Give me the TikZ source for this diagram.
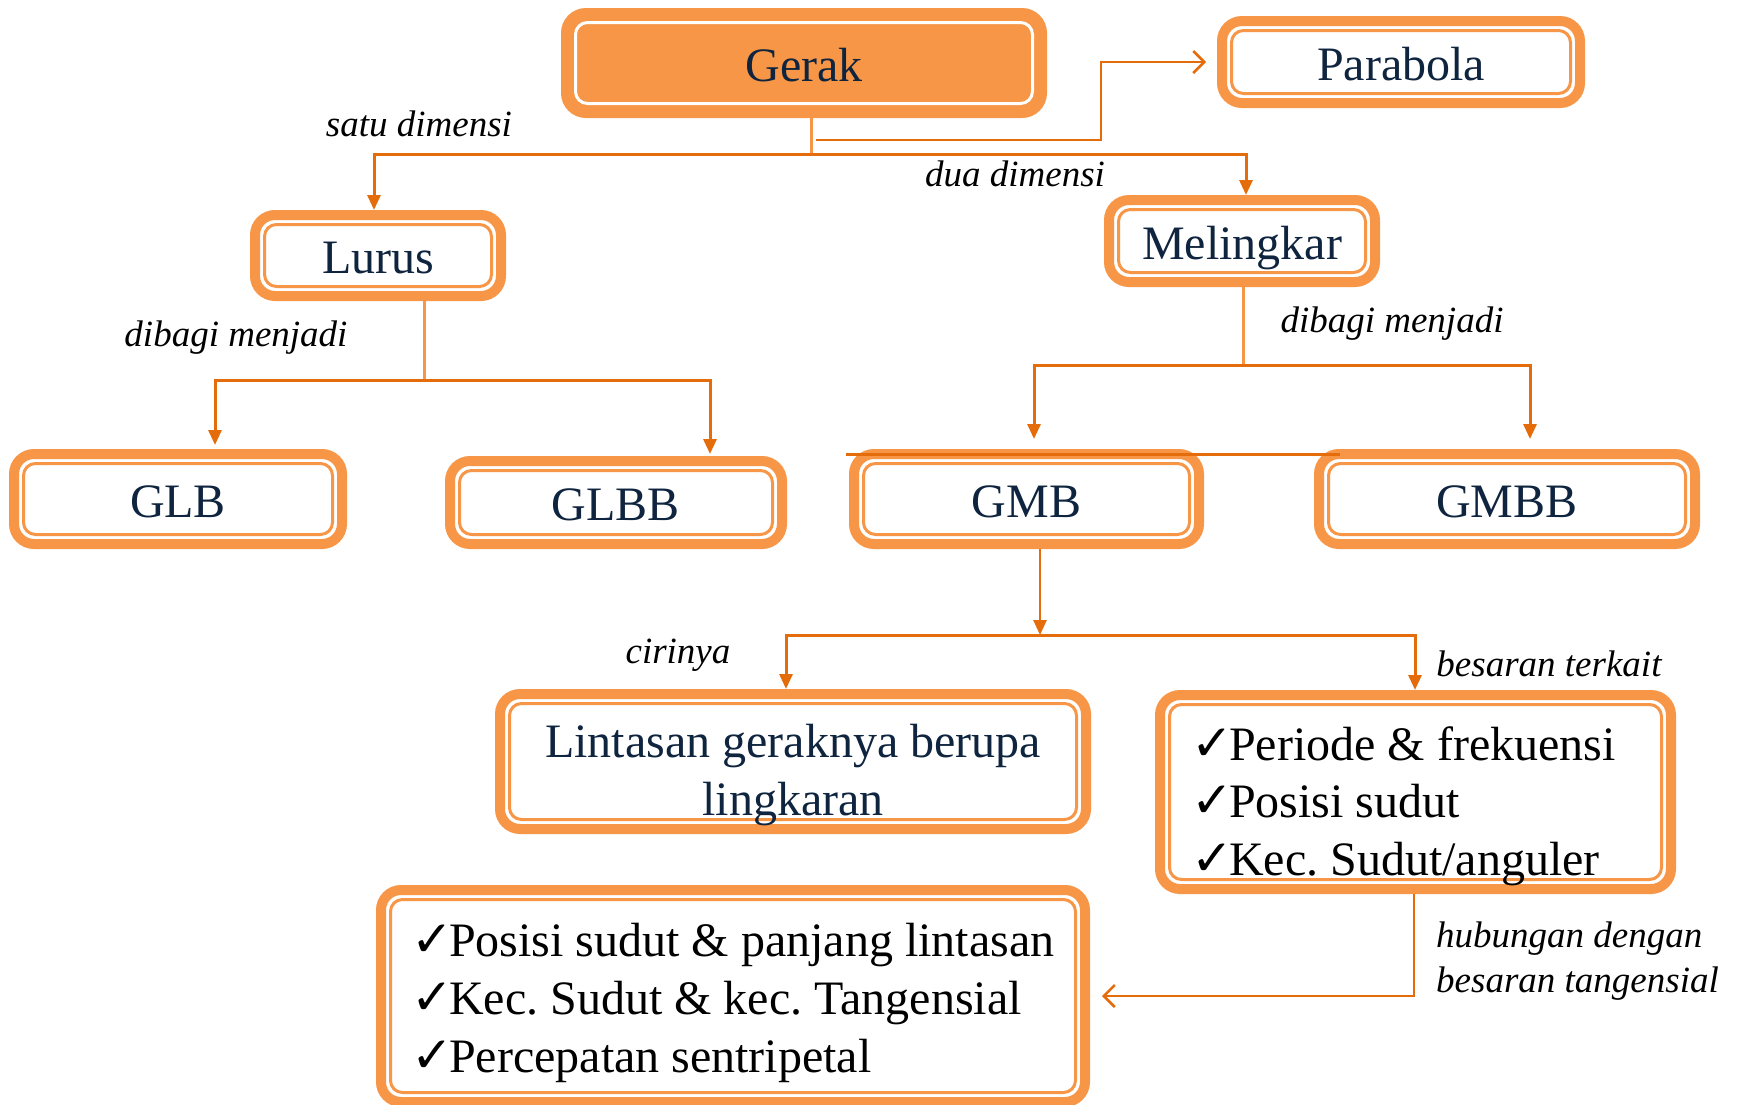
\documentclass[tikz,border=0pt]{standalone}
\usepackage{fontspec}
\setmainfont{Liberation Serif}
\newfontfamily\symfont{DejaVu Sans}
\usetikzlibrary{arrows.meta}
\definecolor{boxor}{HTML}{F79646}
\definecolor{lnor}{HTML}{E46C0A}
\definecolor{navy}{HTML}{0F243E}
\frenchspacing
\newcommand\mychk{{\symfont\fontsize{50}{57.6}\selectfont ✓}\kern-4pt}
\tikzset{
  bx/.style={draw=boxor, line width=10pt, rounded corners=20pt, fill=white, text=navy,
    inner sep=0pt, align=center, font={\fontsize{48}{57.6}\selectfont},
    text height=36pt, text depth=0pt,
    path picture={\draw[draw=boxor, line width=3pt, rounded corners=12pt]
      ([shift={(9.5pt,9.5pt)}]path picture bounding box.south west) rectangle
      ([shift={(-9.5pt,-9.5pt)}]path picture bounding box.north east);}},
  gbx/.style={bx, fill=boxor,
    path picture={\draw[draw=white, line width=3pt, rounded corners=12pt]
      ([shift={(9.5pt,9.5pt)}]path picture bounding box.south west) rectangle
      ([shift={(-9.5pt,-9.5pt)}]path picture bounding box.north east);}},
  txt/.style={inner sep=0pt, font={\fontsize{48}{57.6}\selectfont\frenchspacing}},
  lab/.style={font={\fontsize{37}{45}\selectfont\itshape}, inner sep=0pt, text=black},
  conn/.style={draw=lnor, line width=3pt},
  stem/.style={draw=boxor, line width=3pt},
  tri/.style={-{Triangle[length=15pt,width=13pt]}},
  tri2/.style={{Triangle[length=15pt,width=13pt]}-{Triangle[length=15pt,width=13pt]}},
  barb/.style={-{Straight Barb[length=11pt,width=22pt]}}
}
\begin{document}
\begin{tikzpicture}[x=1pt,y=-1pt]
\useasboundingbox (0,0) rectangle (1740,1104);
% boxes
\node[gbx, minimum width=476pt, minimum height=100pt] (Gerak) at (804,63) {Gerak};
\node[bx, minimum width=358pt, minimum height=82pt] (Parabola) at (1401,62) {Parabola};
\node[bx, minimum width=246pt, minimum height=81pt] (Lurus) at (378,255.5) {Lurus};
\node[bx, minimum width=266pt, minimum height=82pt] (Melingkar) at (1242,241) {Melingkar};
\node[bx, minimum width=328pt, minimum height=90pt] (GLB) at (178,499) {GLB};
\node[bx, minimum width=332pt, minimum height=83pt] (GLBB) at (616,502.5) {GLBB};
\node[bx, minimum width=345pt, minimum height=90pt] (GMB) at (1026.5,499) {GMB};
\node[bx, minimum width=376pt, minimum height=90pt] (GMBB) at (1507,499) {GMBB};
\node[bx, minimum width=586pt, minimum height=135pt] (Lintasan) at (793,761.5) {};
\node[bx, minimum width=511pt, minimum height=194pt] (Besaran) at (1415.5,792) {};
\node[bx, minimum width=704pt, minimum height=212pt] (Hub) at (733,996) {};

% box texts
\node[txt, text=navy, align=center] (LintasanT) at (793,775) {Lintasan geraknya berupa\\lingkaran};
\node[txt, text=black, align=left, anchor=west] (BesaranT) at (1191,806)
  {\mychk Periode \& frekuensi\\\mychk Posisi sudut\\\mychk Kec. Sudut/anguler};
\node[txt, text=black, align=left, anchor=west] (HubT) at (411,1003)
  {\mychk Posisi sudut \& panjang lintasan\\\mychk Kec. Sudut \& kec. Tangensial\\\mychk Percepatan sentripetal};

% Gerak branches
\coordinate (g1) at (811,154);
\coordinate (hl) at (374,154);
\coordinate (hr) at (1246,154);
\draw[stem] (Gerak.south -| g1) -- (g1);
\draw[conn, tri2] (Lurus.north -| hl) -- (hl) -- (hr) -- (Melingkar.north -| hr);
\coordinate (pa) at (816,140);
\coordinate (pb) at (1101,140);
\draw[conn, barb, line width=2.5pt] (pa) -- (pb) |- ([xshift=-11pt]Parabola.west);

% Lurus branches
\coordinate (l1) at (424,380);
\coordinate (ll) at (215,380);
\coordinate (lr) at (710,380);
\draw[stem] (Lurus.south -| l1) -- (l1);
\draw[conn, tri2] ([yshift=4pt]GLB.north -| ll) -- (ll) -- (lr) -- ([yshift=2pt]GLBB.north -| lr);

% Melingkar branches
\coordinate (m1) at (1243,365);
\coordinate (ml) at (1034,365);
\coordinate (mr) at (1530,365);
\draw[stem] (Melingkar.south -| m1) -- (m1);
\draw[conn, tri2] ([yshift=10pt]GMB.north -| ml) -- (ml) -- (mr) -- ([yshift=10pt]GMBB.north -| mr);
\coordinate (s1) at (846,454);
\coordinate (s2) at (1340,454);
\draw[conn] (s1) -- (s2);

% GMB branches
\coordinate (b0) at (1040,635);
\coordinate (bl) at (786,635);
\coordinate (br) at (1415,635);
\draw[conn, line width=2.5pt, tri] (GMB.south -| b0) -- (b0);
\draw[conn, tri2] (Lintasan.north -| bl) -- (bl) -- (br) -- (Besaran.north -| br);

% Besaran -> Hub
\coordinate (c1) at (1414,993);
\draw[conn, barb, line width=2.5pt] (Besaran.south -| c1) |- ([xshift=12pt]Hub.east);

% labels
\node[lab] (t1) at (419,124) {satu dimensi};
\node[lab] (t2) at (1015,174) {dua dimensi};
\node[lab] (t3) at (236,338) {dibagi menjadi};
\node[lab] (t4) at (1392,324) {dibagi menjadi};
\node[lab] (t5) at (678,655) {cirinya};
\node[lab] (t6) at (1549,664) {besaran terkait};
\node[lab, anchor=west, align=left] (t7) at (1436,961.5) {hubungan dengan\\besaran tangensial};
\end{tikzpicture}
\end{document}
